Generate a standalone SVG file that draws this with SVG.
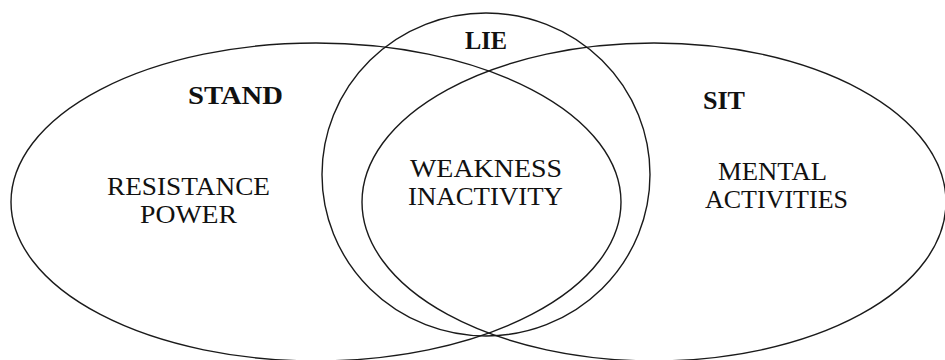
<svg xmlns="http://www.w3.org/2000/svg" width="945" height="360" viewBox="0 0 945 360">
<style>
.set{fill:none;stroke:#1a1a1a;stroke-width:1.4}
.t{font-size:26px;fill:#111;text-anchor:middle}
.b{font-weight:bold}
</style>
<rect width="945" height="360" fill="#fff"/>
<g font-family="Liberation Serif, DejaVu Serif, serif">
<g id="stand">
<ellipse class="set" cx="316" cy="202" rx="305" ry="159"/>
<text class="t b" x="235.5" y="104" textLength="95" lengthAdjust="spacingAndGlyphs">STAND</text>
<text class="t" x="188.5" y="195" textLength="163" lengthAdjust="spacingAndGlyphs">RESISTANCE</text>
<text class="t" x="188.5" y="223" textLength="97" lengthAdjust="spacingAndGlyphs">POWER</text>
</g>
<g id="sit">
<ellipse class="set" cx="654" cy="202" rx="292" ry="159"/>
<text class="t b" x="724" y="109" textLength="42" lengthAdjust="spacingAndGlyphs">SIT</text>
<text class="t" x="772.5" y="180" textLength="109" lengthAdjust="spacingAndGlyphs">MENTAL</text>
<text class="t" x="776.5" y="208" textLength="143" lengthAdjust="spacingAndGlyphs">ACTIVITIES</text>
</g>
<g id="lie">
<ellipse class="set" cx="486" cy="174.5" rx="164" ry="161.5"/>
<text class="t b" x="486" y="49" textLength="42" lengthAdjust="spacingAndGlyphs">LIE</text>
</g>
<g id="overlap">
<text class="t" x="486" y="177" textLength="152" lengthAdjust="spacingAndGlyphs">WEAKNESS</text>
<text class="t" x="485.5" y="205" textLength="155" lengthAdjust="spacingAndGlyphs">INACTIVITY</text>
</g>
</g>
</svg>
